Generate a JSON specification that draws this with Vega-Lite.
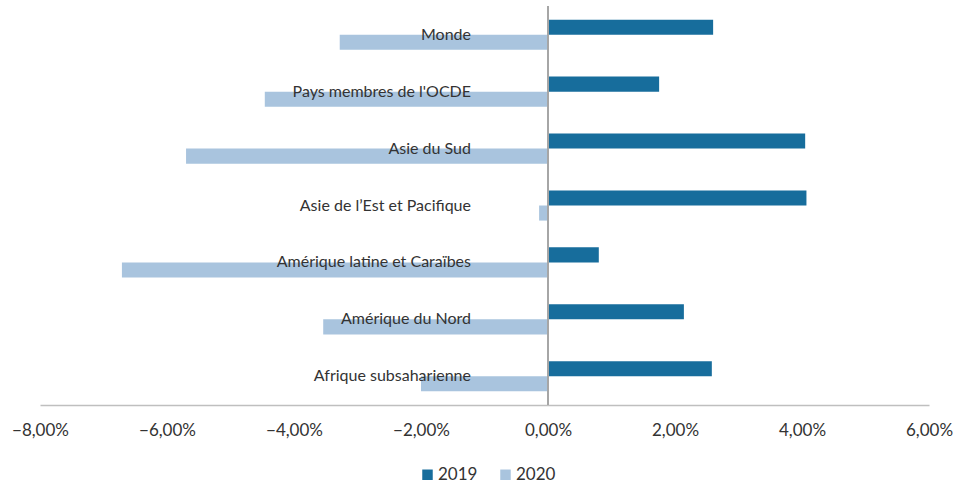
{
  "$schema": "https://vega.github.io/schema/vega-lite/v6.json",
  "width": 889,
  "height": 399,
  "autosize": {"type": "none"},
  "padding": {"left": 40, "top": 6, "right": 31, "bottom": 81},
  "background": "white",
  "config": {"view": {"stroke": null}, "font": "Lato"},
  "data": {
    "values": [
      {"region": "Monde", "annee": "2019", "valeur": 2.6},
      {"region": "Monde", "annee": "2020", "valeur": -3.28},
      {"region": "Pays membres de l'OCDE", "annee": "2019", "valeur": 1.75},
      {"region": "Pays membres de l'OCDE", "annee": "2020", "valeur": -4.46},
      {"region": "Asie du Sud", "annee": "2019", "valeur": 4.05},
      {"region": "Asie du Sud", "annee": "2020", "valeur": -5.7},
      {"region": "Asie de l’Est et Pacifique", "annee": "2019", "valeur": 4.07},
      {"region": "Asie de l’Est et Pacifique", "annee": "2020", "valeur": -0.14},
      {"region": "Amérique latine et Caraïbes", "annee": "2019", "valeur": 0.8},
      {"region": "Amérique latine et Caraïbes", "annee": "2020", "valeur": -6.71},
      {"region": "Amérique du Nord", "annee": "2019", "valeur": 2.14},
      {"region": "Amérique du Nord", "annee": "2020", "valeur": -3.54},
      {"region": "Afrique subsaharienne", "annee": "2019", "valeur": 2.58},
      {"region": "Afrique subsaharienne", "annee": "2020", "valeur": -2.0}
    ]
  },
  "encoding": {
    "y": {
      "field": "region",
      "type": "nominal",
      "sort": null,
      "scale": {"paddingInner": 0.47, "paddingOuter": 0.24},
      "axis": null
    }
  },
  "layer": [
    {
      "mark": {"type": "bar"},
      "encoding": {
        "x": {
          "field": "valeur",
          "type": "quantitative",
          "scale": {"domain": [-8, 6], "nice": false},
          "axis": {
            "title": null,
            "values": [-8, -6, -4, -2, 0, 2, 4, 6],
            "grid": false,
            "ticks": false,
            "domainColor": "#BFBFBF",
            "domainWidth": 1.5,
            "labelPadding": 17,
            "labelFlush": false,
            "labelOverlap": false,
            "labelFontSize": 17,
            "labelColor": "#333333",
            "labelFont": "Lato",
            "labelExpr": "replace(format(datum.value, '.2f'), '.', ',') + '%'"
          }
        },
        "yOffset": {"field": "annee", "type": "nominal", "sort": ["2019", "2020"]},
        "color": {
          "field": "annee",
          "type": "nominal",
          "scale": {"domain": ["2019", "2020"], "range": ["#176D9C", "#A9C4DE"]},
          "legend": {
            "title": null,
            "orient": "none",
            "direction": "horizontal",
            "legendX": 379,
            "legendY": 460,
            "symbolType": "square",
            "symbolSize": 110,
            "symbolStrokeWidth": 0,
            "labelFontSize": 17,
            "labelColor": "#333333",
            "labelFont": "Lato",
            "columnPadding": 19,
            "labelOffset": 2
          }
        }
      }
    },
    {
      "mark": {"type": "rule", "color": "#A6A6A6", "strokeWidth": 1.5},
      "encoding": {"x": {"datum": 0}, "y": {"value": 0}, "y2": {"value": 399}}
    },
    {
      "transform": [{"filter": "datum.annee === '2019'"}],
      "mark": {"type": "text", "align": "right", "baseline": "middle", "dx": -77, "fontSize": 16, "color": "#333333", "font": "Lato"},
      "encoding": {
        "x": {"datum": 0},
        "text": {"field": "region"}
      }
    }
  ]
}
